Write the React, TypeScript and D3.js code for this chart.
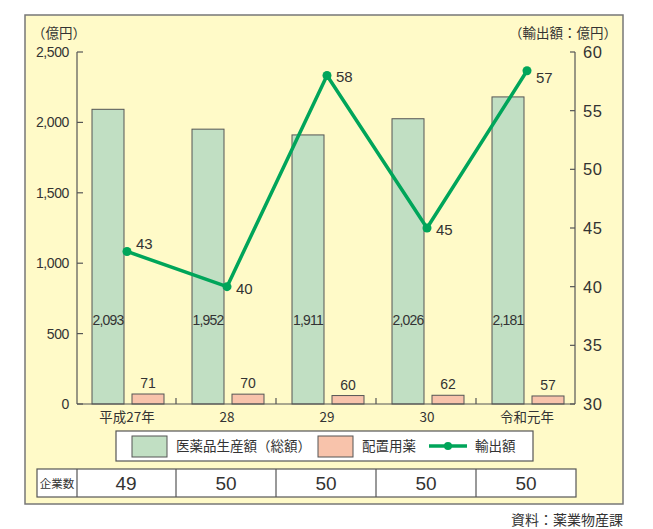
import * as d3 from "d3"

const YEARS = ["平成27年", "28", "29", "30", "令和元年"]
const PRODUCTION = [2093, 1952, 1911, 2026, 2181]
const HAICHI = [71, 70, 60, 62, 57]
// where the reference draws each export point, and the number it prints beside it
const EXPORT_PLOTTED = [43, 40, 58, 45, 58.4]
const EXPORT_LABELS = [43, 40, 58, 45, 57]
const COMPANIES = [49, 50, 50, 50, 50]
const LEFT_TICKS = [0, 500, 1000, 1500, 2000, 2500]
const RIGHT_TICKS = [30, 35, 40, 45, 50, 55, 60]

const W = 653
const H = 529
const BG = "#fffac8"
const GREEN_BAR = "#c1dfc3"
const PINK_BAR = "#f8c3ab"
const LINE = "#00a55a"
const INK = "#333"
const STROKE = "#555"
const NARROW = "'Liberation Sans Narrow', 'Liberation Sans', Arial, sans-serif"
const SANS = "'Liberation Sans', Arial, sans-serif"
const JP = "'Noto Sans CJK JP', 'Noto Sans', sans-serif"

const PLOT_LEFT = 77
const PLOT_RIGHT = 577
const PLOT_TOP = 52
const PLOT_BOTTOM = 404

export default function App() {
  const x = d3.scaleBand<string>().domain(YEARS).range([PLOT_LEFT, PLOT_RIGHT]).padding(0)
  const yL = d3.scaleLinear().domain([0, 2500]).range([PLOT_BOTTOM, PLOT_TOP])
  const yR = d3.scaleLinear().domain([30, 60]).range([PLOT_BOTTOM, PLOT_TOP])
  const barW = 32
  const gap = 8
  const fmt = d3.format(",")

  const line = d3
    .line<number>()
    .x((_, i) => (x(YEARS[i]) ?? 0) + x.bandwidth() / 2)
    .y((d) => yR(d))

  const labelDy = (i: number) => (i === 0 ? -7 : i === EXPORT_PLOTTED.length - 1 ? 7 : 2)

  return (
    <svg
      width={W}
      height={H}
      style={{ position: "absolute", left: 0, top: 0, background: "#fff" }}
    >
      <rect x={25} y={15} width={598} height={489} fill={BG} stroke="#777" strokeWidth={1.5} />

      {/* axis titles */}
      <text x={32} y={38} fontFamily={JP} fontSize={13.5} fill={INK}>
        （億円）
      </text>
      <text x={617} y={38} textAnchor="end" fontFamily={JP} fontSize={13.5} fill={INK}>
        （輸出額：億円）
      </text>

      {/* bars */}
      {YEARS.map((yr, i) => {
        const bx = (x(yr) ?? 0) + x.bandwidth() / 2 - barW - gap / 2 + 1
        const px = bx + barW + gap
        return (
          <g key={yr}>
            <rect
              x={bx}
              y={yL(PRODUCTION[i])}
              width={barW}
              height={PLOT_BOTTOM - yL(PRODUCTION[i])}
              fill={GREEN_BAR}
              stroke={STROKE}
              strokeWidth={1}
            />
            <text
              x={bx + barW / 2}
              y={325}
              textAnchor="middle"
              fontFamily={NARROW}
              fontSize={14}
              letterSpacing={-0.8}
              fill={INK}
            >
              {fmt(PRODUCTION[i])}
            </text>
            <rect
              x={px}
              y={yL(HAICHI[i])}
              width={barW}
              height={PLOT_BOTTOM - yL(HAICHI[i])}
              fill={PINK_BAR}
              stroke={STROKE}
              strokeWidth={1}
            />
            <text
              x={px + barW / 2}
              y={yL(HAICHI[i]) - 6}
              textAnchor="middle"
              fontFamily={NARROW}
              fontSize={14}
              fill={INK}
            >
              {HAICHI[i]}
            </text>
            <text
              x={(x(yr) ?? 0) + x.bandwidth() / 2}
              y={422}
              textAnchor="middle"
              fontFamily={JP}
              fontSize={13.5}
              fill={INK}
            >
              {yr}
            </text>
          </g>
        )
      })}

      {/* left axis */}
      <line x1={PLOT_LEFT} x2={PLOT_LEFT} y1={PLOT_TOP} y2={PLOT_BOTTOM} stroke={STROKE} strokeWidth={1.2} />
      {LEFT_TICKS.map((t) => (
        <g key={t}>
          <line x1={PLOT_LEFT} x2={PLOT_LEFT + 6} y1={yL(t)} y2={yL(t)} stroke={STROKE} strokeWidth={1.2} />
          <text
            x={69}
            y={yL(t) + 5}
            textAnchor="end"
            fontFamily={NARROW}
            fontSize={14}
            letterSpacing={-0.4}
            fill={INK}
          >
            {fmt(t)}
          </text>
        </g>
      ))}

      {/* right axis */}
      <line x1={575} x2={575} y1={PLOT_TOP} y2={PLOT_BOTTOM} stroke={STROKE} strokeWidth={1.2} />
      {RIGHT_TICKS.map((t) => (
        <g key={t}>
          <line x1={570} x2={575} y1={yR(t)} y2={yR(t)} stroke={STROKE} strokeWidth={1.2} />
          <text x={583} y={yR(t) + 6} fontFamily={SANS} fontSize={16.5} letterSpacing={0.5} fill={INK}>
            {t}
          </text>
        </g>
      ))}

      {/* bottom axis */}
      <line x1={PLOT_LEFT} x2={575} y1={PLOT_BOTTOM} y2={PLOT_BOTTOM} stroke={STROKE} strokeWidth={1.2} />
      {YEARS.slice(1).map((yr) => (
        <line
          key={yr}
          x1={(x(yr) ?? 0) - 1}
          x2={(x(yr) ?? 0) - 1}
          y1={PLOT_BOTTOM}
          y2={PLOT_BOTTOM - 6}
          stroke={STROKE}
          strokeWidth={1.2}
        />
      ))}

      {/* export line */}
      <path d={line(EXPORT_PLOTTED) ?? ""} fill="none" stroke={LINE} strokeWidth={3.5} strokeLinejoin="round" />
      {EXPORT_PLOTTED.map((v, i) => {
        const cx = (x(YEARS[i]) ?? 0) + x.bandwidth() / 2
        return (
          <g key={i}>
            <circle cx={cx} cy={yR(v)} r={4.5} fill={LINE} />
            <text
              x={cx + 9}
              y={yR(v) + labelDy(i) + 5}
              fontFamily={NARROW}
              fontSize={15}
              fill={INK}
            >
              {EXPORT_LABELS[i]}
            </text>
          </g>
        )
      })}

      {/* legend */}
      <rect x={116} y={431} width={417} height={30} fill="#fff" stroke={STROKE} strokeWidth={1.2} />
      <rect x={132} y={436} width={35} height={21} fill={GREEN_BAR} stroke={STROKE} strokeWidth={1} />
      <text x={176} y={451} fontFamily={JP} fontSize={13.5} fill={INK}>
        医薬品生産額（総額）
      </text>
      <rect x={318} y={436} width={35} height={21} fill={PINK_BAR} stroke={STROKE} strokeWidth={1} />
      <text x={362} y={451} fontFamily={JP} fontSize={13.5} fill={INK}>
        配置用薬
      </text>
      <line x1={429} x2={467} y1={446} y2={446} stroke={LINE} strokeWidth={3.5} />
      <circle cx={448} cy={446} r={4} fill={LINE} />
      <text x={475} y={451} fontFamily={JP} fontSize={13.5} fill={INK}>
        輸出額
      </text>

      {/* companies table */}
      <rect x={37} y={469} width={539} height={28} fill="#fff" stroke={STROKE} strokeWidth={1.2} />
      <line x1={PLOT_LEFT} x2={PLOT_LEFT} y1={469} y2={497} stroke={STROKE} strokeWidth={1.2} />
      <text x={57} y={488} textAnchor="middle" fontFamily={JP} fontSize={11.5} fill={INK}>
        企業数
      </text>
      {YEARS.map((yr, i) => (
        <g key={yr}>
          {i > 0 ? (
            <line
              x1={(x(yr) ?? 0) - 1}
              x2={(x(yr) ?? 0) - 1}
              y1={469}
              y2={497}
              stroke={STROKE}
              strokeWidth={1.2}
            />
          ) : null}
          <text
            x={(x(yr) ?? 0) + x.bandwidth() / 2 - 1}
            y={490}
            textAnchor="middle"
            fontFamily={NARROW}
            fontSize={19}
            fill={INK}
          >
            {COMPANIES[i]}
          </text>
        </g>
      ))}

      <text x={623} y={525} textAnchor="end" fontFamily={JP} fontSize={14} fill={INK}>
        資料：薬業物産課
      </text>
    </svg>
  )
}
